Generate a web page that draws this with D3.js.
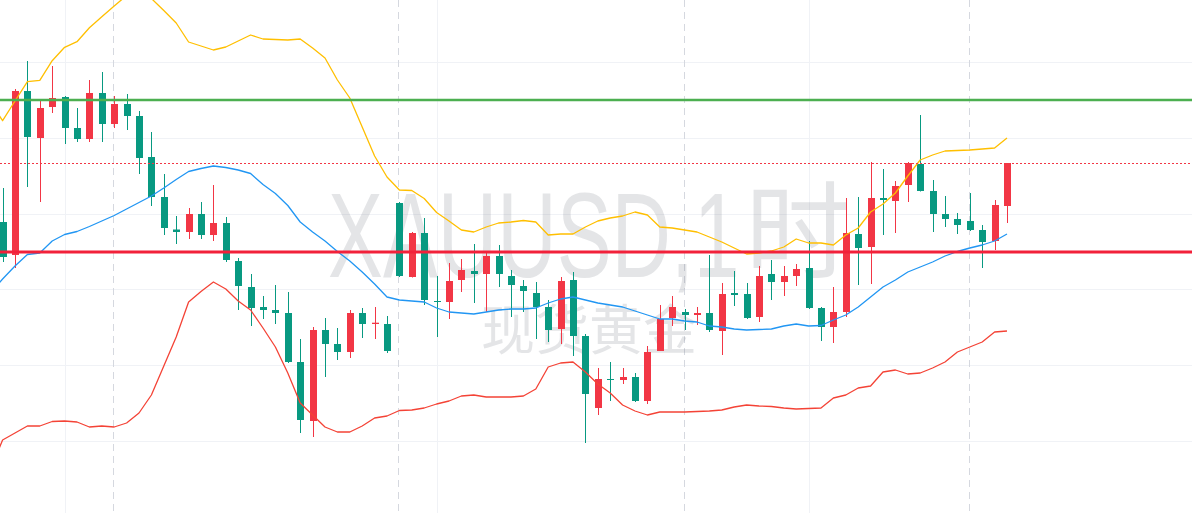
<!DOCTYPE html>
<html>
<head>
<meta charset="utf-8">
<script src="https://cdn.jsdelivr.net/npm/d3@7"></script>
<style>
html, body { margin: 0; padding: 0; background: #fff; overflow: hidden; }
svg { display: block; }
</style>
</head>
<body>
<svg id="chart" width="1192" height="513"></svg>
<script>
// XAUUSD 1h candles, first bar (index -1) sits just off the left edge
const firstBar = -1;
const opens = [2327.7,2329.1,2325.8,2342.2,2337.5,2340.6,2341.6,2338.5,2337.4,2342.0,2338.9,2340.9,2339.7,2335.6,2331.6,2328.35,2328.1,2329.9,2327.8,2329.0,2325.2,2322.6,2320.6,2320.3,2320.0,2315.1,2309.2,2318.3,2316.9,2316.1,2320.0,2318.9,2318.9,2331.0,2323.6,2328.0,2321.2,2321.1,2323.3,2324.2,2323.9,2325.7,2323.7,2322.7,2322.0,2320.6,2318.4,2323.3,2317.7,2310.5,2313.4,2313.3,2313.6,2311.2,2316.2,2319.5,2320.1,2319.8,2320.0,2318.2,2322.0,2321.9,2319.6,2323.9,2323.1,2323.7,2324.5,2320.5,2318.6,2320.1,2327.9,2326.6,2331.5,2331.2,2332.8,2334.9,2332.2,2329.9,2329.4,2329.2,2328.3,2327.2,2330.7];
const highs = [2329.5,2332.5,2342.4,2345.2,2341.3,2344.7,2341.7,2340.5,2343.3,2344.1,2341.7,2341.9,2340.2,2338.1,2333.9,2329.7,2330.5,2331.1,2332.8,2329.6,2325.5,2323.9,2321.7,2322.8,2322.1,2317.4,2318.6,2319.5,2318.5,2320.3,2320.5,2320.6,2319.7,2331.1,2328.1,2329.5,2323.7,2325.0,2325.4,2326.9,2326.0,2326.8,2324.3,2323.3,2323.1,2321.3,2323.6,2324.1,2317.9,2314.5,2315.1,2314.5,2314.0,2316.7,2320.8,2321.7,2320.4,2320.6,2325.8,2323.0,2324.2,2323.0,2324.7,2325.3,2324.7,2324.9,2327.2,2320.6,2322.6,2331.5,2331.6,2335.1,2334.4,2333.2,2335.1,2339.8,2333.3,2331.7,2330.0,2332.0,2328.8,2331.3,2335.0];
const lows = [2327.3,2325.1,2324.5,2332.6,2331.1,2340.0,2336.9,2337.1,2337.1,2337.1,2338.5,2338.3,2333.9,2330.7,2327.8,2326.9,2327.4,2327.4,2327.2,2325.1,2320.3,2318.7,2319.4,2318.9,2315.0,2308.0,2307.6,2313.6,2315.3,2315.5,2317.5,2317.4,2316.0,2323.6,2323.55,2320.8,2317.6,2319.4,2322.1,2321.0,2320.1,2322.6,2319.6,2320.1,2317.4,2317.1,2316.9,2315.7,2307.0,2309.8,2311.2,2312.9,2311.1,2310.9,2316.2,2318.7,2318.3,2318.8,2318.1,2315.8,2320.7,2319.4,2319.1,2321.3,2321.7,2322.7,2320.4,2317.2,2317.0,2319.6,2322.8,2322.9,2327.8,2328.0,2331.1,2332.15,2328.1,2328.6,2327.9,2328.2,2324.5,2326.3,2329.0];
const closes = [2329.1,2325.6,2342.2,2337.6,2340.5,2341.5,2338.5,2337.4,2342.0,2338.9,2340.9,2339.7,2335.5,2331.6,2328.5,2328.1,2329.9,2327.8,2329.0,2325.3,2322.7,2320.5,2320.3,2320.0,2315.1,2309.3,2318.3,2316.9,2316.1,2320.0,2318.9,2319.03,2316.2,2323.7,2328.0,2321.3,2321.1,2323.2,2324.3,2323.9,2325.7,2323.9,2322.8,2322.2,2320.6,2318.3,2323.2,2317.7,2311.9,2313.4,2313.3,2313.6,2311.2,2316.1,2319.4,2320.6,2319.8,2320.0,2318.3,2321.9,2321.8,2319.5,2323.7,2323.1,2323.7,2324.4,2320.5,2318.6,2320.1,2328.0,2326.5,2331.5,2331.3,2332.7,2335.0,2332.2,2329.9,2329.4,2328.8,2328.3,2327.1,2330.8,2335.0];

// Bollinger bands
const bbUpper = [2341.1,2339.23,2341.2,2343.13,2343.27,2345.23,2346.57,2347.13,2348.53,2349.63,2350.7,2351.75,2352.0,2351.45,2350.25,2349.0,2347.1,2346.7,2346.3,2346.6,2347.2,2347.8,2347.4,2347.35,2347.3,2347.4,2346.5,2345.5,2343.3,2341.5,2338.6,2335.7,2333.6,2332.3,2332.25,2331.45,2330.05,2329.2,2328.3,2328.1,2328.6,2329.0,2329.1,2329.25,2329.1,2327.8,2327.9,2327.9,2328.6,2329.2,2329.5,2329.7,2330.1,2329.8,2328.6,2328.5,2328.3,2328.1,2327.6,2327.1,2326.5,2325.9,2326.0,2326.2,2326.6,2327.4,2327.0,2327.0,2326.8,2327.8,2328.5,2330.1,2330.9,2332.0,2333.7,2335.3,2335.8,2336.2,2336.25,2336.3,2336.4,2336.5,2337.5];
const bbMiddle = [2322.0,2323.4,2324.7,2325.85,2326.0,2327.2,2327.85,2328.15,2328.65,2329.2,2329.75,2330.4,2331.05,2331.7,2332.5,2333.35,2334.15,2334.45,2334.7,2334.55,2334.3,2333.95,2332.85,2331.95,2330.75,2329.1,2328.1,2327.2,2326.15,2325.2,2324.1,2322.9,2321.6,2321.3,2321.2,2321.1,2320.5,2320.1,2320.0,2319.9,2320.1,2320.3,2320.4,2320.4,2320.5,2321.0,2321.4,2321.6,2321.3,2321.0,2320.8,2320.6,2320.2,2319.8,2319.4,2319.4,2319.2,2319.1,2318.7,2318.6,2318.4,2318.3,2318.35,2318.4,2318.7,2318.9,2318.7,2318.75,2319.3,2319.8,2320.6,2321.6,2322.6,2323.3,2324.1,2324.6,2325.1,2325.7,2326.15,2326.5,2326.8,2327.2,2327.9];
const bbLower = [2304.3,2307.3,2308.0,2308.7,2308.7,2309.15,2309.2,2309.1,2308.6,2308.7,2308.6,2309.0,2310.0,2311.8,2314.7,2317.6,2321.1,2322.15,2323.1,2322.4,2321.2,2320.3,2318.5,2316.6,2314.0,2311.0,2309.8,2308.6,2308.1,2308.1,2308.7,2309.5,2309.7,2310.25,2310.3,2310.5,2310.9,2311.2,2311.7,2311.8,2311.6,2311.6,2311.6,2311.7,2312.4,2314.6,2315.0,2315.1,2314.1,2312.9,2312.0,2310.8,2310.2,2309.8,2310.1,2310.1,2310.1,2310.15,2310.2,2310.3,2310.6,2310.8,2310.7,2310.65,2310.5,2310.4,2310.45,2310.5,2311.5,2311.8,2312.5,2312.7,2314.1,2314.3,2313.9,2314.0,2314.5,2315.1,2316.1,2316.6,2317.1,2318.1,2318.2];

// drawn levels
const resistance = 2341.3;
const support = 2326.1;

// price grid and time grid (bar indices)
const gridPrices = [2307.2, 2314.8, 2322.4, 2329.9, 2337.5, 2345.1];
const gridBars = [5, 35, 65];
const sessionBars = [9, 32, 55, 78];

const symbolText = "XAUUSD,1";
const periodText = "时";
const nameText = "现货黄金";

const width = 1192, height = 513;
const barSpacing = 12.4, firstX = 2.6;
const upColor = "#F23645", downColor = "#089981";

const svg = d3.select("#chart");

const x = d3.scaleLinear().domain([0, 1]).range([firstX, firstX + barSpacing]);
const y = d3.scaleLinear().domain([2300, 2351.3]).range([height, 0]);

const bars = d3.range(opens.length).map(k => ({
    i: k + firstBar, o: opens[k], h: highs[k], l: lows[k], c: closes[k],
    up: bbUpper[k], mid: bbMiddle[k], low: bbLower[k]
}));

// grid
const grid = svg.append("g").attr("class", "grid");
grid.selectAll(".hgrid").data(gridPrices).join("line")
    .attr("class", "hgrid")
    .attr("x1", 0).attr("x2", width)
    .attr("y1", d => Math.round(y(d)) + 0.5).attr("y2", d => Math.round(y(d)) + 0.5)
    .attr("stroke", "#f0f2f6").attr("stroke-width", 1);
grid.selectAll(".vgrid").data(gridBars).join("line")
    .attr("class", "vgrid")
    .attr("x1", d => Math.round(x(d)) + 0.5).attr("x2", d => Math.round(x(d)) + 0.5)
    .attr("y1", 0).attr("y2", height)
    .attr("stroke", "#f0f2f6").attr("stroke-width", 1);
grid.selectAll(".session").data(sessionBars).join("line")
    .attr("class", "session")
    .attr("x1", d => Math.round(x(d)) - 0.5).attr("x2", d => Math.round(x(d)) - 0.5)
    .attr("y1", 0).attr("y2", height)
    .attr("stroke", "#d5d8df").attr("stroke-width", 1)
    .attr("stroke-dasharray", "7,5");

// watermark: narrow latin part, then the period glyph, then the name
const wm = svg.append("g").attr("class", "watermark")
    .attr("fill", "rgba(120,123,134,0.2)");
wm.append("text")
    .attr("transform", "translate(328,277) scale(0.686,1)")
    .attr("font-family", "'Liberation Sans', Arial, sans-serif")
    .attr("font-size", 120)
    .text(symbolText);
wm.append("text")
    .attr("x", 745).attr("y", 270)
    .attr("font-family", "'Noto Sans CJK SC', sans-serif")
    .attr("font-size", 106)
    .text(periodText);
wm.append("text")
    .attr("x", 589).attr("y", 350)
    .attr("text-anchor", "middle")
    .attr("font-family", "'Noto Sans CJK SC', sans-serif")
    .attr("font-size", 54)
    .text(nameText);

// candles
const candles = svg.append("g").attr("class", "candles");
const candle = candles.selectAll("g").data(bars).join("g")
    .attr("fill", d => d.c >= d.o ? upColor : downColor)
    .attr("stroke", d => d.c >= d.o ? upColor : downColor);
candle.append("line")
    .attr("x1", d => Math.round(x(d.i)) + 0.5).attr("x2", d => Math.round(x(d.i)) + 0.5)
    .attr("y1", d => y(d.h)).attr("y2", d => y(d.l))
    .attr("stroke-width", 1);
candle.append("rect")
    .attr("x", d => Math.round(x(d.i)) - 3)
    .attr("width", 7)
    .attr("y", d => y(Math.max(d.o, d.c)))
    .attr("height", d => Math.max(1, Math.abs(y(d.o) - y(d.c))))
    .attr("stroke", "none");

// bollinger bands
const bands = [
    {key: "up", color: "#FFBF00"},
    {key: "mid", color: "#2196F3"},
    {key: "low", color: "#F44336"}
];
svg.append("g").attr("class", "bands")
    .selectAll("path").data(bands).join("path")
    .attr("fill", "none")
    .attr("stroke", d => d.color)
    .attr("stroke-width", 1.3)
    .attr("stroke-linejoin", "round")
    .attr("d", b => d3.line().x(d => x(d.i)).y(d => y(d[b.key]))(bars));

// horizontal levels
const levels = svg.append("g").attr("class", "levels");
levels.append("line")
    .attr("x1", 0).attr("x2", width)
    .attr("y1", y(resistance)).attr("y2", y(resistance))
    .attr("stroke", "#4CAF50").attr("stroke-width", 2.6);
levels.append("line")
    .attr("x1", 0).attr("x2", width)
    .attr("y1", y(support)).attr("y2", y(support))
    .attr("stroke", "#F2213A").attr("stroke-width", 3);

// last price
const last = closes[closes.length - 1];
levels.append("line")
    .attr("x1", 0).attr("x2", width)
    .attr("y1", Math.round(y(last)) + 0.5).attr("y2", Math.round(y(last)) + 0.5)
    .attr("stroke", upColor).attr("stroke-width", 1)
    .attr("stroke-dasharray", "2,2");
</script>
</body>
</html>
